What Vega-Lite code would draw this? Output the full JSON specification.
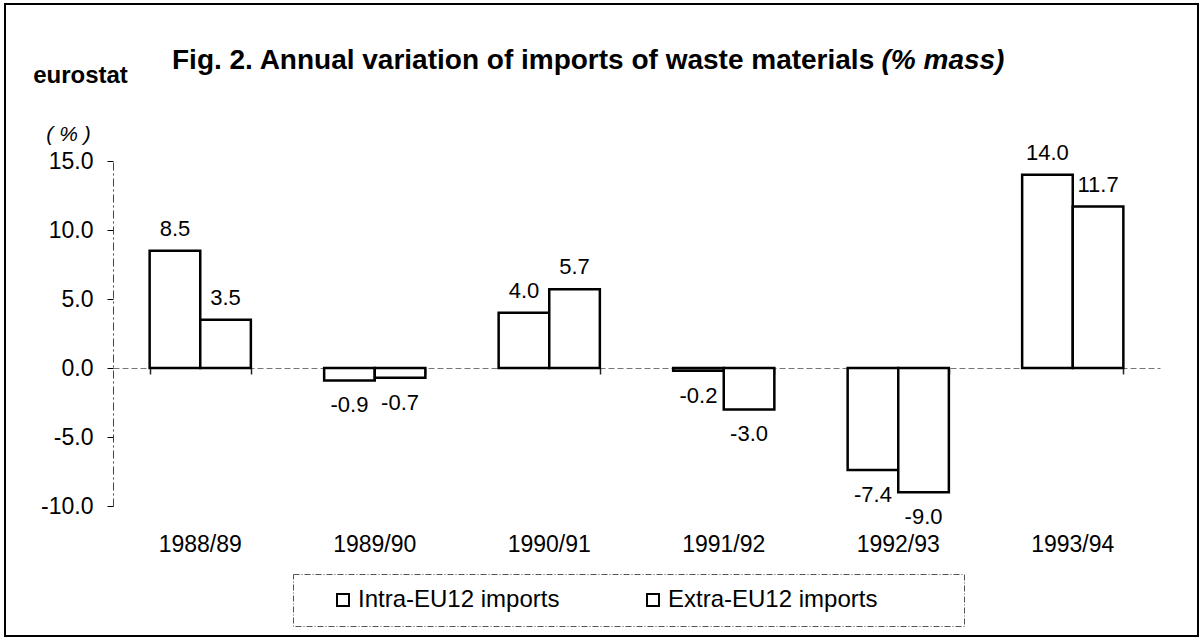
{
  "$schema": "https://vega.github.io/schema/vega-lite/v6.json",
  "width": 1193,
  "height": 632,
  "autosize": {"type": "none"},
  "padding": {"left": 5, "top": 4, "right": 5, "bottom": 3},
  "background": "white",
  "title": {
    "text": "Fig. 2. Annual variation of imports of waste materials",
    "anchor": "start", "frame": "group", "orient": "top", "offset": 0,
    "dx": 167, "dy": 93, "baseline": "alphabetic",
    "font": "Liberation Sans", "fontSize": 28, "fontWeight": "bold", "color": "black"
  },
  "config": {
    "view": {"stroke": "black", "strokeWidth": 2},
    "font": "Liberation Sans",
    "locale": {"number": {"decimal": ".", "thousands": ",", "grouping": [3], "currency": ["$", ""], "minus": "-"}},
    "legend": {"strokeColor": "#555", "strokeDash": [6, 2, 1, 2], "strokeWidth": 1}
  },
  "data": {
    "values": [
      {"period": "1988/89", "series": "Intra-EU12 imports", "value": 8.5},
      {"period": "1988/89", "series": "Extra-EU12 imports", "value": 3.5},
      {"period": "1989/90", "series": "Intra-EU12 imports", "value": -0.9},
      {"period": "1989/90", "series": "Extra-EU12 imports", "value": -0.7},
      {"period": "1990/91", "series": "Intra-EU12 imports", "value": 4.0},
      {"period": "1990/91", "series": "Extra-EU12 imports", "value": 5.7},
      {"period": "1991/92", "series": "Intra-EU12 imports", "value": -0.2},
      {"period": "1991/92", "series": "Extra-EU12 imports", "value": -3.0},
      {"period": "1992/93", "series": "Intra-EU12 imports", "value": -7.4},
      {"period": "1992/93", "series": "Extra-EU12 imports", "value": -9.0},
      {"period": "1993/94", "series": "Intra-EU12 imports", "value": 14.0},
      {"period": "1993/94", "series": "Extra-EU12 imports", "value": 11.7}
    ]
  },
  "layer": [
    {
      "mark": {"type": "bar", "stroke": "black", "strokeWidth": 2.5},
      "encoding": {
        "x": {
          "field": "period", "type": "nominal", "sort": null,
          "scale": {"range": [108, 1155], "paddingInner": 0.42, "paddingOuter": 0.21},
          "axis": {
            "orient": "top", "offset": -547, "ticks": false, "tickSize": 0, "domain": false,
            "labelAngle": 0, "labelFontSize": 23, "labelPadding": 0, "labelColor": "black", "labelBaseline": "alphabetic",
            "title": "eurostat", "titleFontSize": 24, "titleFontWeight": "bold",
            "titleX": 75, "titleY": -469, "titleAlign": "center", "titleBaseline": "alphabetic",
            "titleColor": "black", "grid": false
          }
        },
        "xOffset": {"field": "series", "type": "nominal", "sort": null},
        "y": {
          "field": "value", "type": "quantitative",
          "scale": {"domain": [-10, 15], "range": [502, 157], "nice": false},
          "axis": {
            "orient": "left", "offset": -108, "values": [-10, -5, 0, 5, 10, 15], "format": ".1f",
            "labelFontSize": 23, "labelPadding": 14, "labelColor": "black",
            "tickSize": 6, "tickColor": "black",
            "domainColor": "#444", "domainDash": [8, 3, 2, 3], "domainWidth": 1, "grid": false,
            "title": "( % )", "titleAngle": 0, "titleAlign": "center", "titleBaseline": "middle",
            "titleX": -45, "titleY": 130, "titleFontSize": 21, "titleFontStyle": "italic",
            "titleFontWeight": "normal", "titleColor": "black"
          }
        },
        "color": {
          "field": "series", "type": "nominal", "sort": null,
          "scale": {"range": ["white", "white"]},
          "legend": {
            "orient": "none", "legendX": 288, "legendY": 570, "direction": "horizontal", "columns": 2,
            "title": null, "symbolType": "square", "symbolSize": 144,
            "symbolStrokeColor": "black", "symbolStrokeWidth": 2, "symbolFillColor": "white",
            "labelFontSize": 24, "labelColor": "black", "labelOffset": 3, "labelLimit": 500,
            "padding": 14, "symbolOffset": 24, "columnPadding": 57,
            "labelExpr": "datum.value == 'Extra-EU12 imports' ? datum.label + '\u2800\u2800\u2800\u2800' : datum.label"
          }
        }
      }
    },
    {
      "transform": [{"filter": "datum.value >= 0"}],
      "mark": {"type": "text", "baseline": "middle", "dy": -22, "fontSize": 22, "color": "black"},
      "encoding": {
        "x": {
          "field": "period", "type": "nominal", "sort": null,
          "axis": {
            "orient": "bottom", "offset": -268, "labels": false, "domain": true,
            "domainColor": "#777", "domainDash": [6, 3], "domainWidth": 1,
            "ticks": true, "tickBand": "extent", "tickSize": 6, "tickColor": "#222", "tickWidth": 1.5, "grid": false,
            "title": "(% mass)", "titleFontSize": 28, "titleFontStyle": "italic", "titleFontWeight": "bold",
            "titleX": 876, "titleY": -300, "titleAlign": "left", "titleBaseline": "alphabetic", "titleColor": "black"
          }
        },
        "xOffset": {"field": "series", "type": "nominal", "sort": null},
        "y": {"field": "value", "type": "quantitative"},
        "text": {"field": "value", "type": "quantitative", "format": ".1f"}
      }
    },
    {
      "transform": [{"filter": "datum.value < 0"}],
      "mark": {"type": "text", "baseline": "middle", "dy": 25, "fontSize": 22, "color": "black"},
      "encoding": {
        "x": {"field": "period", "type": "nominal", "sort": null, "axis": null},
        "xOffset": {"field": "series", "type": "nominal", "sort": null},
        "y": {"field": "value", "type": "quantitative"},
        "text": {"field": "value", "type": "quantitative", "format": ".1f"}
      }
    }
  ],
  "resolve": {"axis": {"x": "independent"}}
}
